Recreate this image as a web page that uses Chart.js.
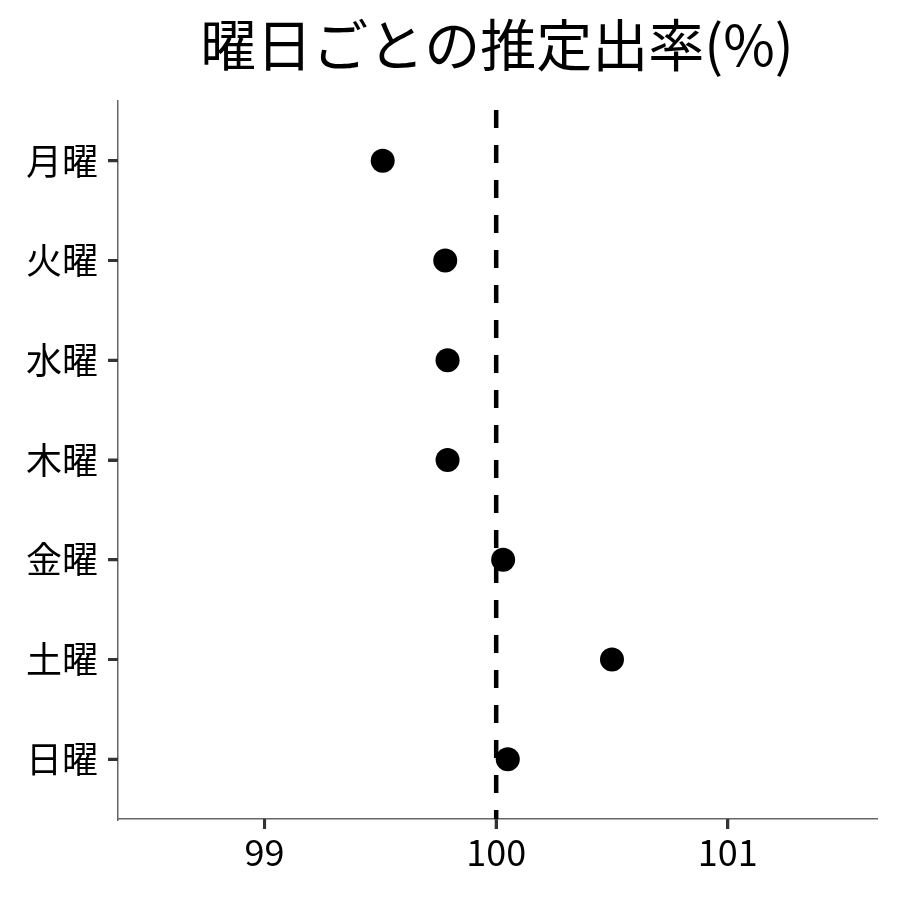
<!DOCTYPE html>
<html>
<head>
<meta charset="utf-8">
<script src="https://cdn.jsdelivr.net/npm/chart.js@4"></script>
<style>
  html, body { margin: 0; padding: 0; background: #fff; }
  #wrap { width: 900px; height: 900px; }
</style>
</head>
<body>
<div id="wrap"><canvas id="dayChart"></canvas></div>
<script>
const days = ['月曜','火曜','水曜','木曜','金曜','土曜','日曜'];
const rates = [99.51, 99.78, 99.79, 99.79, 100.03, 100.5, 100.05];
const xTicks = [99, 100, 101];
const refValue = 100;
const titleText = '曜日ごとの推定出率(%)';

const font = 'Noto Sans CJK JP';

// title centred over the plot panel, like ggplot
const panelTitle = {
  id: 'panelTitle',
  afterDraw(chart) {
    const { ctx, chartArea } = chart;
    ctx.save();
    ctx.fillStyle = '#000';
    ctx.font = `56px "${font}"`;
    ctx.textAlign = 'center';
    ctx.textBaseline = 'middle';
    ctx.fillText(titleText, (chartArea.left + chartArea.right) / 2, 45);
    ctx.restore();
  }
};

// heavier axis ticks than the grid draws
const heavyTicks = {
  id: 'heavyTicks',
  afterDraw(chart) {
    const { ctx, chartArea, scales } = chart;
    ctx.save();
    ctx.strokeStyle = '#333';
    ctx.lineWidth = 3;
    ctx.beginPath();
    scales.x.ticks.forEach(t => {
      const px = scales.x.getPixelForValue(t.value);
      ctx.moveTo(px, chartArea.bottom);
      ctx.lineTo(px, chartArea.bottom + 10);
    });
    scales.y.ticks.forEach(t => {
      const py = scales.y.getPixelForValue(t.value);
      ctx.moveTo(chartArea.left, py);
      ctx.lineTo(chartArea.left - 10, py);
    });
    ctx.stroke();
    ctx.restore();
  }
};

const tickGrid = { drawOnChartArea: false, color: '#333', lineWidth: 3, tickLength: 10, tickColor: '#333', tickWidth: 3 };

new Chart(document.getElementById('dayChart'), {
  type: 'scatter',
  data: {
    datasets: [
      { label: '基準', type: 'line', data: [{ x: refValue, y: -0.6 }, { x: refValue, y: days.length - 0.4 }], borderColor: '#000', borderWidth: 4.5, borderDash: [18, 17], borderDashOffset: 26, pointRadius: 0, order: 2 },
      { label: '推定出率', data: rates.map((v, i) => ({ x: v, y: i })), backgroundColor: '#000', borderWidth: 0, pointRadius: 12, pointHoverRadius: 12, order: 1 }
    ]
  },
  options: {
    responsive: true, maintainAspectRatio: false, animation: false,
    layout: { padding: { left: 0, right: 24, top: 101, bottom: 0 } },
    plugins: {
      legend: { display: false },
      tooltip: { enabled: false },
      title: { display: false }
    },
    scales: {
      x: {
        type: 'linear', min: 98.367, max: 101.64,
        afterBuildTicks: s => { s.ticks = xTicks.map(v => ({ value: v })); },
        afterFit: s => { s.height = 81; },
        border: { color: '#666', width: 1.5 },
        grid: tickGrid,
        ticks: { color: '#000', font: { family: font, size: 36 }, padding: 2, maxRotation: 0 }
      },
      y: {
        type: 'linear', reverse: true, min: -0.6, max: days.length - 0.4,
        afterBuildTicks: s => { s.ticks = days.map((d, i) => ({ value: i })); },
        afterFit: s => { s.width = 118; },
        border: { color: '#666', width: 1.5 },
        grid: tickGrid,
        ticks: { color: '#000', font: { family: font, size: 36 }, padding: 10, callback: v => days[v] }
      }
    }
  },
  plugins: [panelTitle, heavyTicks]
});
</script>
</body>
</html>
